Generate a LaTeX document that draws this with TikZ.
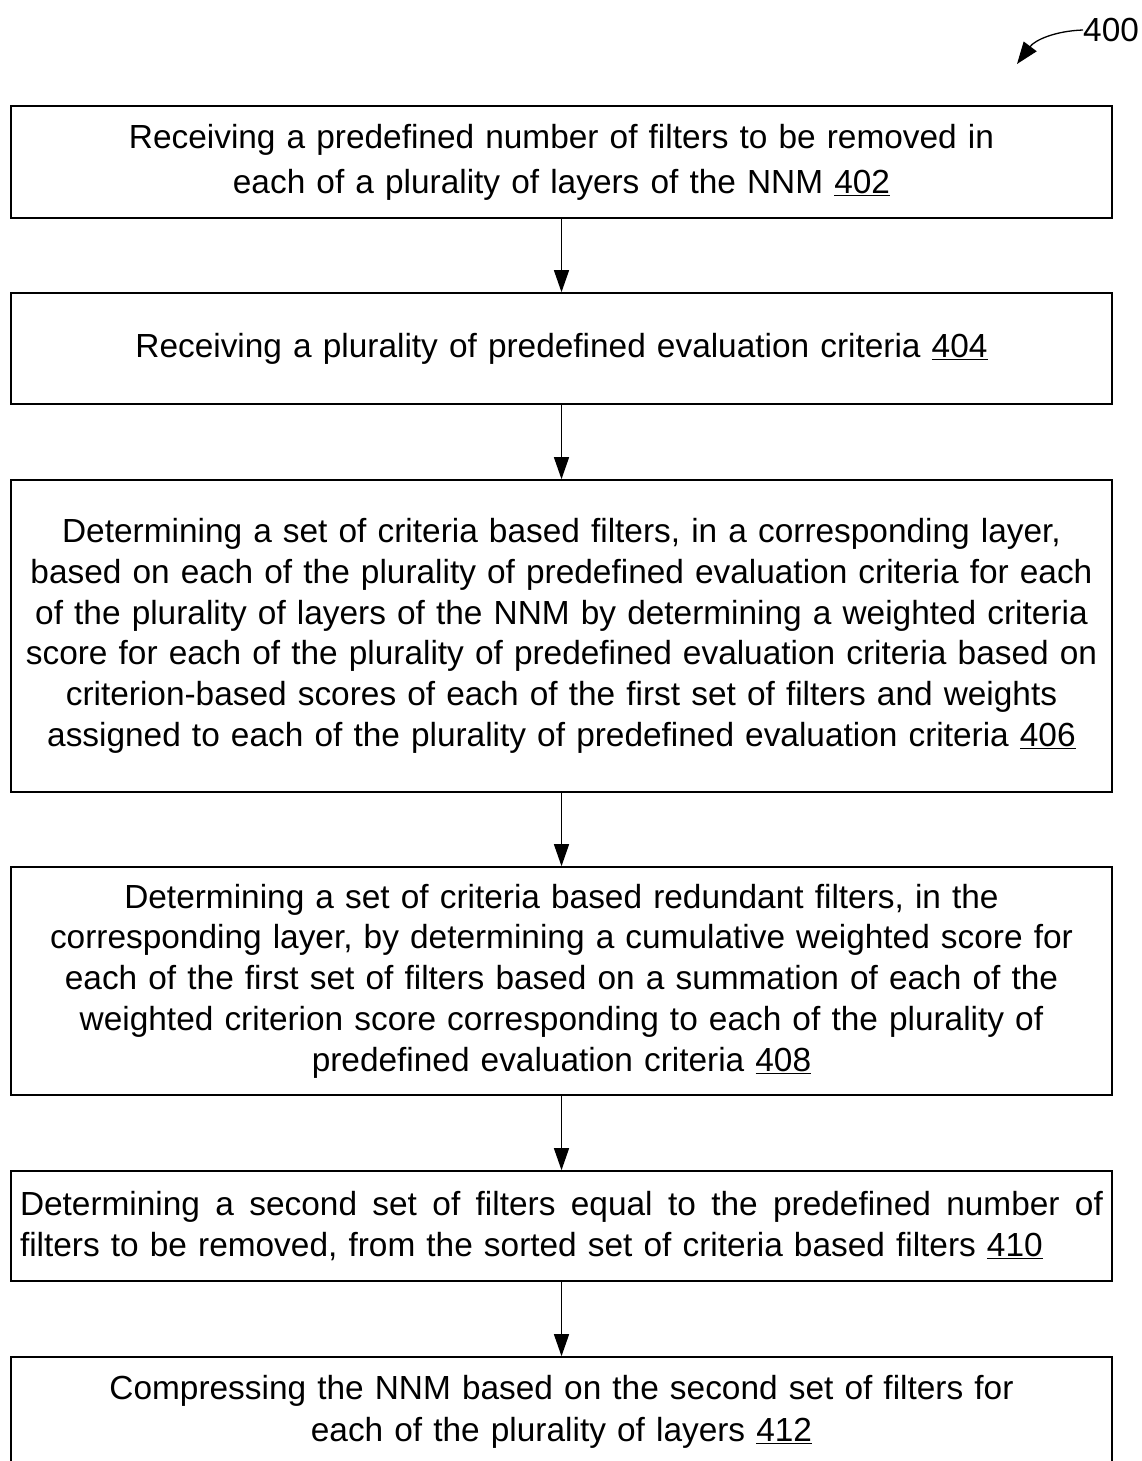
\documentclass[tikz,border=0pt]{standalone}
\usepackage{fontspec}
\setmainfont{Liberation Sans}
\usetikzlibrary{arrows.meta}
\begin{document}
\begin{tikzpicture}[x=1pt,y=-1pt,
  stepbox/.style={draw,line width=1.6pt,minimum width=1101pt,inner sep=0pt,
    text width=1088pt,align=center,font=\fontsize{33.4}{40.7}\selectfont},
  flow/.style={line width=1.3pt,-{Triangle[length=22pt,width=15pt]}}]
\useasboundingbox (0,0) rectangle (1141,1461);
\clip (0,0) rectangle (1141,1461);
\node[stepbox,minimum height=112pt,font=\fontsize{33.4}{45}\selectfont] (b1) at (561.5,162) {Receiving a predefined number of filters to be removed in\\each of a plurality of layers of the NNM \underline{402}};
\node[stepbox,minimum height=111pt] (b2) at (561.5,348.5) {Receiving a plurality of predefined evaluation criteria \underline{404}};
\node[stepbox,minimum height=312pt] (b3) at (561.5,636) {Determining a set of criteria based filters, in a corresponding layer,\\based on each of the plurality of predefined evaluation criteria for each\\of the plurality of layers of the NNM by determining a weighted criteria\\score for each of the plurality of predefined evaluation criteria based on\\criterion-based scores of each of the first set of filters and weights\\assigned to each of the plurality of predefined evaluation criteria \underline{406}};
\node[stepbox,minimum height=228pt] (b4) at (561.5,981) {Determining a set of criteria based redundant filters, in the\\corresponding layer, by determining a cumulative weighted score for\\each of the first set of filters based on a summation of each of the\\weighted criterion score corresponding to each of the plurality of\\predefined evaluation criteria \underline{408}};
\node[stepbox,minimum height=110pt,text width=1083pt,align=left] (b5) at (561.5,1226) {\hbox to 1083pt{Determining\hfill a\hfill second\hfill set\hfill of\hfill filters\hfill equal\hfill to\hfill the\hfill predefined\hfill number\hfill of}\\filters to be removed, from the sorted set of criteria based filters \underline{410}};
\node[stepbox,minimum height=110pt,font=\fontsize{33.4}{42}\selectfont] (b6) at (561.5,1412) {Compressing the NNM based on the second set of filters for\\each of the plurality of layers \underline{412}};
\draw[flow] (b1.south) -- (b2.north);
\draw[flow] (b2.south) -- (b3.north);
\draw[flow] (b3.south) -- (b4.north);
\draw[flow] (b4.south) -- (b5.north);
\draw[flow] (b5.south) -- (b6.north);
\node[font=\fontsize{33.4}{38}\selectfont,anchor=west,inner sep=0pt] (lbl) at (1083,30) {400};
\coordinate (tip) at (1017,64);
\draw[line width=1.3pt,-{Triangle[length=22pt,width=16pt]}] (lbl.west) .. controls (1055,31) and (1035,40) .. (tip);
\end{tikzpicture}
\end{document}
